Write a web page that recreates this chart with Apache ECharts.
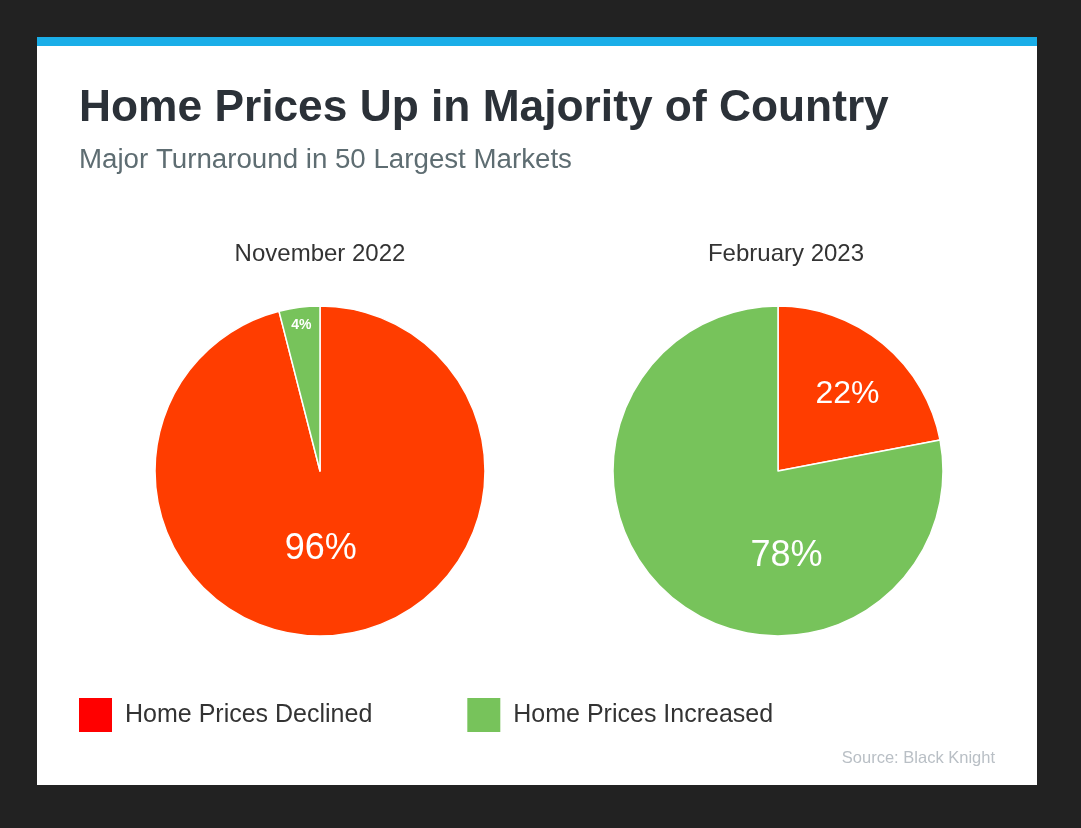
<!DOCTYPE html>
<html>
<head>
<meta charset="utf-8">
<script src="https://cdn.jsdelivr.net/npm/echarts@6/dist/echarts.min.js"></script>
<style>
html,body{margin:0;padding:0;background:#222222;}
#chart{width:1081px;height:828px;}
</style>
</head>
<body>
<div id="chart"></div>
<script>
const categories = ['Home Prices Declined', 'Home Prices Increased'];
const nov2022 = [96, 4];
const feb2023 = [22, 78];
const pieTitles = ['November 2022', 'February 2023'];
const titleText = 'Home Prices Up in Majority of Country';
const subtitleText = 'Major Turnaround in 50 Largest Markets';
const sourceText = 'Source: Black Knight';

const sliceColors = ['#FF3D00', '#77C35B'];
const legendColors = ['#FF0000', '#77C35B'];
const FONT = '"Liberation Sans", Arial, Helvetica, sans-serif';

// label styling / nudges per pie, per slice
const labelStyles = [
  [{fontSize: 36, dx: -10, dy: -7}, {fontSize: 14, fontWeight: 'bold', dx: -8, dy: -61}],
  [{fontSize: 32, dx: 15, dy: -11}, {fontSize: 36, dx: 63, dy: 19}]
];

function buildData(values, pieIdx) {
  return values.map((v, i) => ({
    name: categories[i],
    value: v,
    itemStyle: {color: sliceColors[i]},
    label: {fontSize: labelStyles[pieIdx][i].fontSize, fontWeight: labelStyles[pieIdx][i].fontWeight || 'normal'}
  }));
}

function makeLayout(pieIdx) {
  return function (params) {
    const s = labelStyles[pieIdx][params.dataIndex];
    return {dx: s.dx, dy: s.dy};
  };
}

const chart = echarts.init(document.getElementById('chart'), null, {renderer: 'canvas'});
const centers = [[320, 471], [778, 471]];

chart.setOption({
  backgroundColor: '#222222',
  animation: false,
  graphic: [
    {type: 'rect', shape: {x: 37, y: 37, width: 1000, height: 748}, style: {fill: '#FFFFFF'}, z: -10},
    {type: 'rect', shape: {x: 37, y: 37, width: 1000, height: 9}, style: {fill: '#1AAEE8'}, z: -9},
    {type: 'text', x: 320, y: 254, style: {text: pieTitles[0], fill: '#333333', font: '24px ' + FONT, textAlign: 'center', textVerticalAlign: 'middle'}},
    {type: 'text', x: 786, y: 254, style: {text: pieTitles[1], fill: '#333333', font: '24px ' + FONT, textAlign: 'center', textVerticalAlign: 'middle'}},
    {type: 'text', x: 995, y: 758, style: {text: sourceText, fill: '#B9BFC5', font: '16.5px ' + FONT, textAlign: 'right', textVerticalAlign: 'middle'}}
  ],
  title: [
    {text: titleText, left: 79, top: 87, padding: 0,
     textStyle: {fontFamily: FONT, fontSize: 44.3, fontWeight: 'bold', color: '#2B3138', lineHeight: 44}},
    {text: subtitleText, left: 79, top: 146, padding: 0,
     textStyle: {fontFamily: FONT, fontSize: 27.7, fontWeight: 'normal', color: '#5E6D72', lineHeight: 28}}
  ],
  legend: {
    left: 77, top: 696, padding: 0,
    itemWidth: 35, itemHeight: 36, itemGap: 93,
    icon: 'rect',
    selectedMode: false,
    textStyle: {fontFamily: FONT, fontSize: 25, color: '#333333', padding: [0, 0, 0, 7]},
    data: categories.map((c, i) => ({name: c, itemStyle: {color: legendColors[i]}}))
  },
  series: [nov2022, feb2023].map((vals, p) => ({
    type: 'pie',
    center: centers[p],
    radius: 165,
    startAngle: 90,
    clockwise: true,
    silent: true,
    data: buildData(vals, p),
    itemStyle: {borderColor: '#FFFFFF', borderWidth: 1.5},
    label: {show: true, position: 'inside', formatter: '{c}%', color: '#FFFFFF', fontFamily: FONT},
    labelLine: {show: false},
    labelLayout: makeLayout(p),
    emphasis: {disabled: true}
  }))
});
</script>
</body>
</html>
